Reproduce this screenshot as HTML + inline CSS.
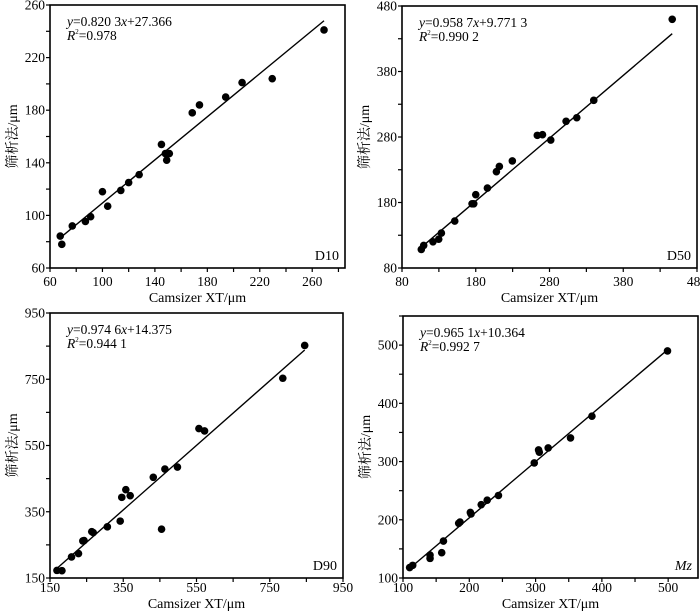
<!DOCTYPE html>
<html><head><meta charset="utf-8">
<style>
html,body{margin:0;padding:0;background:#fff;}
svg{display:block;}
svg text{font-family:"Liberation Serif","Noto Serif CJK SC",serif;}
</style></head>
<body>
<svg id="chart" width="700" height="612" viewBox="0 0 700 612" xmlns="http://www.w3.org/2000/svg"></svg>
<script>
// D10
const d10X = [67.8,69,77,87,91,100,104,114,120,128,145,148,149,151,168.5,174,194,206.5,229.5,269];
const d10Y = [84.3,78,92,95.4,99,118,107,119,125,131,154,147,142,147,178,184,190,201,204,241];
// D50
const d50X = [106.2,109.4,122,129.8,133.4,151.5,175,177.3,180,195.8,208,212,229.6,263.5,270.5,281.7,302.5,317,340,446.4];
const d50Y = [108.4,114.5,120,124,133.3,151.6,178,178,192,202,227,235,243.5,282.5,283.5,275.4,304,309.4,336,459.7];
// D90
const d90X = [169,182.6,208.8,227.8,239.6,243,264,268,306.6,341.7,346,357,369,432,454.6,463.7,498,556.6,572,785.6,845.4];
const d90Y = [173,172,213.6,223.7,262,263,290,287,304.5,321.7,393.4,416.7,398.5,454,297.5,479,485,601,594,753,852];
// Mz
const mzX = [110,114.6,140.8,140.8,158.4,161,184,186,201.6,202.6,218,227,244,298,304.5,305.6,319,352.7,385,499];
const mzY = [118,121.7,139.4,133.7,143.4,163.4,194,196,212.6,210,226,233.7,241.7,297.7,320,316,323.4,340.6,378,490];
// tick labels
const ticksD10 = [60,100,140,180,220,260];
const ticksD50 = [80,180,280,380,480];
const ticksD90 = [150,350,550,750,950];
const ticksMz = [100,200,300,400,500];
// fit coefficients [slope, intercept]
const fitD10 = [0.8203,27.366];
const fitD50 = [0.9587,9.7713];
const fitD90 = [0.9746,14.375];
const fitMz = [0.9651,10.364];

const NS="http://www.w3.org/2000/svg";
const FONT='"Liberation Serif", "Noto Serif CJK SC", serif';
const svg=document.getElementById('chart');
function mk(tag,attrs,parent){const e=document.createElementNS(NS,tag);for(const k in attrs)e.setAttribute(k,attrs[k]);if(tag==='text')e.setAttribute('font-family',FONT);(parent||svg).appendChild(e);return e;}

function panel(o){
  const g=mk('g',{});
  
  
  const sx=v=>o.L+(v-o.xd[0])/(o.xd[1]-o.xd[0])*(o.R-o.L);
  const sy=v=>o.B-(v-o.yd[0])/(o.yd[1]-o.yd[0])*(o.B-o.T);
  const box=mk('rect',{x:o.L,y:o.T,width:o.R-o.L,height:o.B-o.T,fill:'none',stroke:'#000','stroke-width':1.6},g);
  
  
  const xstep=o.xt[1]-o.xt[0];
  for(let v=o.xd[0];v<=o.xd[1]+1e-6;v+=xstep/2){
    mk('line',{x1:sx(v),x2:sx(v),y1:o.B,y2:o.B+4,stroke:'#000','stroke-width':1.2},g);
  }
  o.xt.forEach(v=>{
    const t=mk('text',{x:sx(v),y:o.B+o.tk,'text-anchor':'middle','font-size':13.5,fill:'#000'},g);
    t.textContent=v;
    
    
  });
  const ystep=o.yt[1]-o.yt[0];
  for(let v=o.yd[0];v<=o.yd[1]+1e-6;v+=ystep/2){
    mk('line',{x1:o.L-4,x2:o.L,y1:sy(v),y2:sy(v),stroke:'#000','stroke-width':1.2},g);
  }
  o.yt.forEach(v=>{
    const t=mk('text',{x:o.L-5,y:sy(v)+4.5,'text-anchor':'end','font-size':13.5,fill:'#000'},g);
    t.textContent=v;
    
    
  });
  const xl=mk('text',{x:(o.L+o.R)/2,y:o.B+o.tt,'text-anchor':'middle','font-size':14,fill:'#000'},g);
  xl.textContent='Camsizer XT/μm';
  
  
  const cy=(o.T+o.B)/2;
  const yl=mk('text',{x:o.L-33,y:cy,'text-anchor':'middle','font-size':14,fill:'#000',transform:`rotate(-90 ${o.L-33} ${cy})`},g);
  yl.textContent='筛析法/μm';
  
  
  const x0=Math.min(...o.x), x1=Math.max(...o.x);
  const ln=mk('line',{x1:sx(x0),y1:sy(o.fit[0]*x0+o.fit[1]),x2:sx(x1),y2:sy(o.fit[0]*x1+o.fit[1]),stroke:'#000','stroke-width':1.4},g);
  
  
  o.x.forEach((v,i)=>{
    const c=mk('circle',{cx:sx(v),cy:sy(o.y[i]),r:3.8,fill:'#000'},g);
    
    
  });
  const eq=mk('text',{x:o.L+17,y:o.T+21,'font-size':13.5,fill:'#000'},g);
  eq.innerHTML=o.eq;
  
  
  const r2=mk('text',{x:o.L+17,y:o.T+35,'font-size':13.5,fill:'#000'},g);
  r2.innerHTML='<tspan font-style="italic">R</tspan><tspan font-size="7" dy="-6">2</tspan><tspan dy="6">='+o.r2+'</tspan>';
  
  
  const pl=mk('text',{x:o.R-6,y:o.B-8,'text-anchor':'end','font-size':14,fill:'#000','font-style':o.italic?'italic':'normal'},g);
  pl.textContent=o.label;
  
  
}
panel({name:'d10',L:50,R:345,T:5,B:268,tk:18,tt:34,xd:[60,285],yd:[60,260],xt:ticksD10,yt:ticksD10,x:d10X,y:d10Y,fit:fitD10,
  eq:'<tspan font-style="italic">y</tspan>=0.820 3<tspan font-style="italic">x</tspan>+27.366',r2:'0.978',label:'D10'});
panel({name:'d50',L:402,R:697,T:6,B:268,tk:18,tt:34,xd:[80,480],yd:[80,480],xt:ticksD50,yt:ticksD50,x:d50X,y:d50Y,fit:fitD50,
  eq:'<tspan font-style="italic">y</tspan>=0.958 7<tspan font-style="italic">x</tspan>+9.771 3',r2:'0.990 2',label:'D50'});
panel({name:'d90',L:50,R:343,T:313,B:578,tk:14,tt:30,xd:[150,950],yd:[150,950],xt:ticksD90,yt:ticksD90,x:d90X,y:d90Y,fit:fitD90,
  eq:'<tspan font-style="italic">y</tspan>=0.974 6<tspan font-style="italic">x</tspan>+14.375',r2:'0.944 1',label:'D90'});
panel({name:'mz',L:403,R:698,T:316,B:578,tk:14,tt:30,xd:[100,545],yd:[100,550],xt:ticksMz,yt:ticksMz,x:mzX,y:mzY,fit:fitMz,
  eq:'<tspan font-style="italic">y</tspan>=0.965 1<tspan font-style="italic">x</tspan>+10.364',r2:'0.992 7',label:'Mz',italic:true});
</script>
</body></html>
